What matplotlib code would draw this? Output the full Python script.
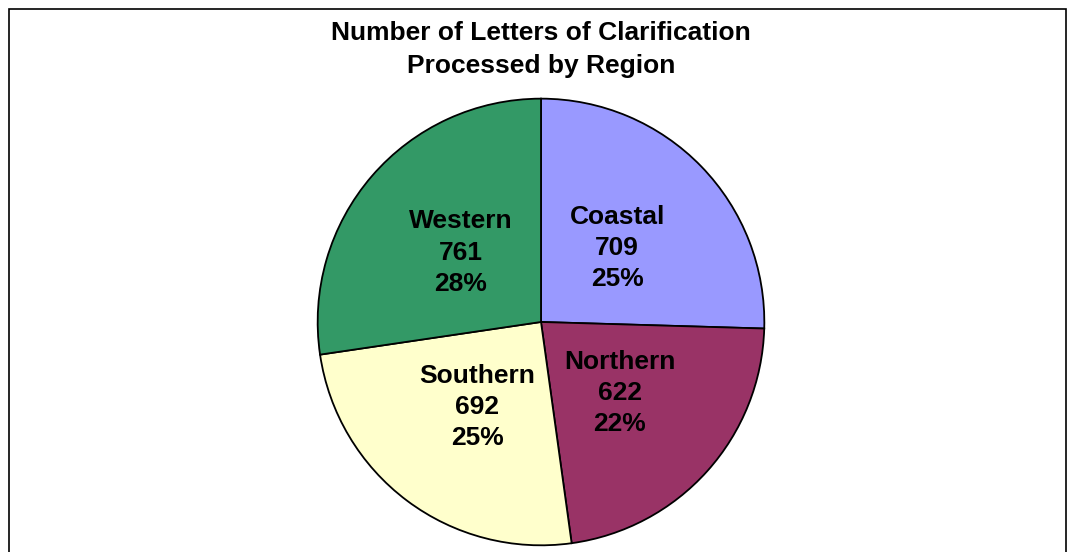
import numpy as np
import matplotlib
matplotlib.use("Agg")
import matplotlib.pyplot as plt
from matplotlib.patches import Rectangle

regions = ["Coastal", "Northern", "Southern", "Western"]
letters = [709, 622, 692, 761]
pct_labels = ["25%", "22%", "25%", "28%"]
colors = ["#9999FF", "#993366", "#FFFFCC", "#339966"]

plt.rcParams["font.family"] = ["Liberation Sans", "DejaVu Sans"]

fig = plt.figure(figsize=(10.68, 5.52), dpi=100)

# frame around chart area (bottom edge runs off the picture)
fig.patches.append(Rectangle((9 / 1068, -0.05), 1057 / 1068, 1.05 - 9 / 552,
                             transform=fig.transFigure, fill=False,
                             edgecolor="black", linewidth=1.2))

ax = fig.add_axes([0.2968, 0.0109, 0.4195, 0.8116])
wedges, _ = ax.pie(letters, colors=colors, startangle=90, counterclock=False,
                   wedgeprops=dict(edgecolor="black", linewidth=1.3))
ax.set_xlim(-1.003, 1.003)
ax.set_ylim(-1.003, 1.003)
ax.set_aspect("equal")

for w, name, n, p in zip(wedges, regions, letters, pct_labels):
    mid = np.deg2rad((w.theta1 + w.theta2) / 2)
    ax.text(0.475 * np.cos(mid), 0.475 * np.sin(mid), f"{name}\n{n}\n{p}",
            ha="center", va="center", fontsize=19, fontweight="bold",
            linespacing=1.38)

fig.text(0.5066, 1 - 49.5 / 552, "Number of Letters of Clarification\nProcessed by Region",
         ha="center", va="center", fontsize=19, fontweight="bold", linespacing=1.49)

fig.savefig("out.png", dpi=100)
